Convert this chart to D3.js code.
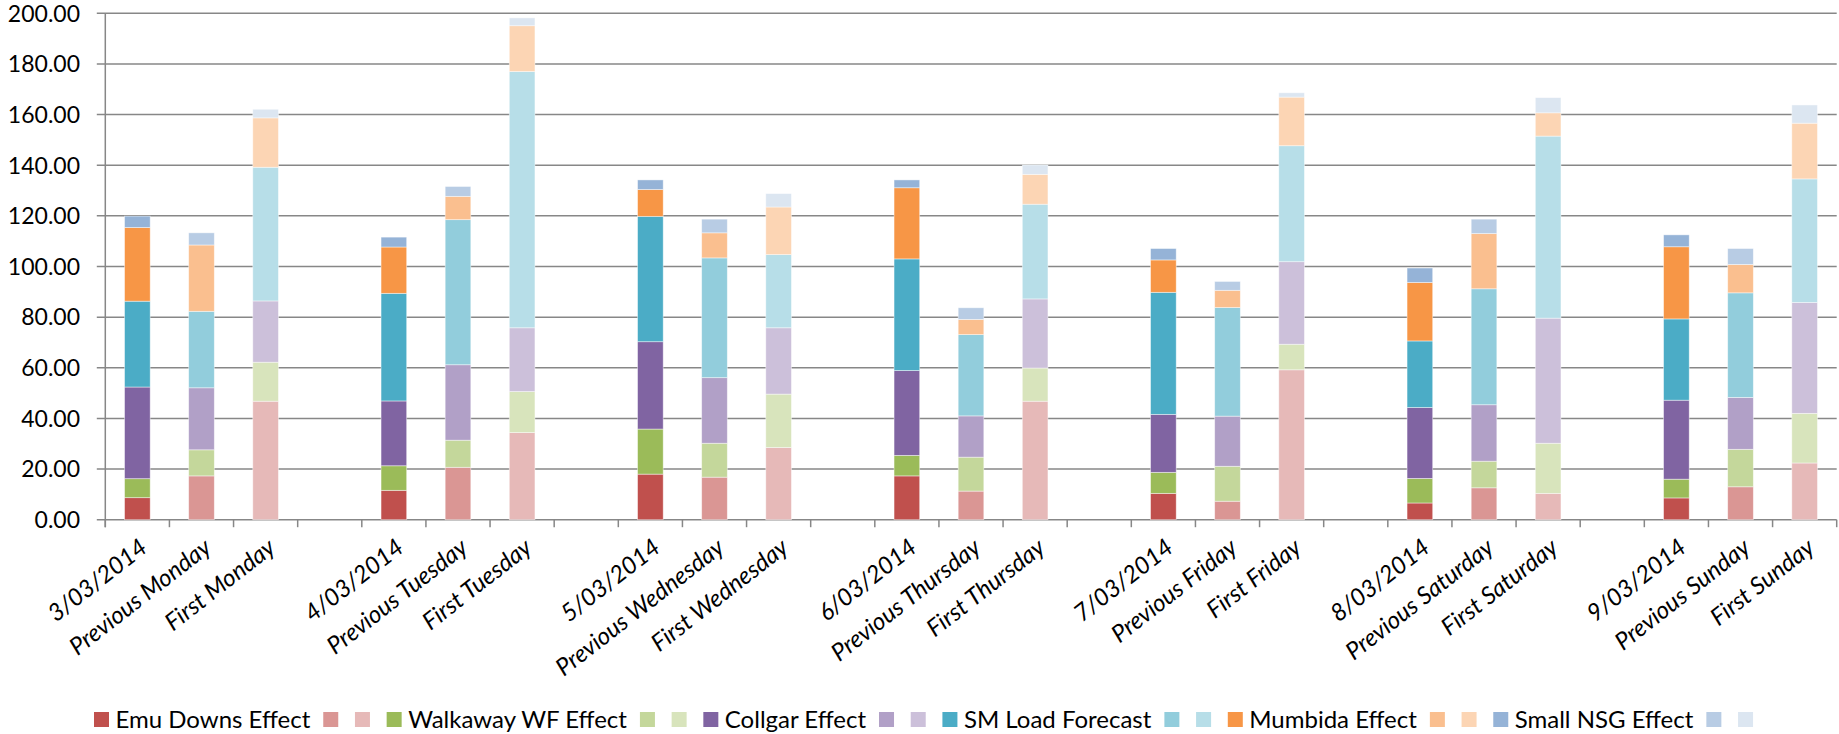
<!DOCTYPE html>
<html>
<head>
<meta charset="utf-8">
<script src="https://cdn.jsdelivr.net/npm/d3@7/dist/d3.min.js"></script>
<style>
  html, body { margin: 0; padding: 0; background: #fff; }
  svg { display: block; }
  text { font-family: Lato, "Open Sans", sans-serif; fill: #000; }
</style>
</head>
<body>
<svg id="chart" width="1839" height="734"></svg>
<script>
// Category axis: date bar, previous-weekday bar, first-weekday bar, then a blank spacer
const categories = [
  "3/03/2014", "Previous Monday", "First Monday", "",
  "4/03/2014", "Previous Tuesday", "First Tuesday", "",
  "5/03/2014", "Previous Wednesday", "First Wednesday", "",
  "6/03/2014", "Previous Thursday", "First Thursday", "",
  "7/03/2014", "Previous Friday", "First Friday", "",
  "8/03/2014", "Previous Saturday", "First Saturday", "",
  "9/03/2014", "Previous Sunday", "First Sunday"
];

// Bars in drawing order (blank spacer categories carry no bar)
const barCategories = categories.filter(c => c !== "");
// 0 = actual date, 1 = previous weekday, 2 = first weekday
const barKinds = [0,1,2, 0,1,2, 0,1,2, 0,1,2, 0,1,2, 0,1,2, 0,1,2];

const seriesNames = ["Emu Downs Effect", "Walkaway WF Effect", "Collgar Effect",
                     "SM Load Forecast", "Mumbida Effect", "Small NSG Effect"];

// Stack values per bar, bottom to top
const emuDowns   = [8.7, 17.3, 46.8, 11.6, 20.7, 34.4, 18.0, 16.8, 28.5, 17.3, 11.3, 46.8, 10.4, 7.3, 59.2, 6.6, 12.6, 10.4, 8.6, 13.0, 22.4];
const walkaway   = [7.5, 10.3, 15.4, 9.7, 10.7, 16.2, 17.8, 13.4, 21.1, 8.1, 13.4, 13.1, 8.3, 13.8, 10.1, 9.7, 10.5, 19.8, 7.4, 14.8, 19.6];
const collgar    = [36.2, 24.5, 24.2, 25.6, 29.8, 25.2, 34.5, 25.9, 26.2, 33.5, 16.3, 27.3, 22.9, 19.8, 32.6, 28.0, 22.3, 49.4, 31.2, 20.5, 43.8];
const smLoad     = [33.9, 30.2, 52.8, 42.5, 57.3, 101.2, 49.5, 47.3, 28.9, 44.1, 32.1, 37.4, 48.2, 42.9, 45.8, 26.3, 45.8, 71.9, 32.1, 41.3, 48.8];
const mumbida    = [29.1, 26.2, 19.5, 18.3, 9.2, 18.1, 10.6, 9.9, 18.8, 28.1, 6.0, 11.8, 12.8, 6.8, 19.2, 23.1, 21.8, 9.2, 28.5, 11.2, 22.0];
const smallNsg   = [4.5, 4.8, 3.4, 3.9, 3.9, 3.1, 3.8, 5.4, 5.3, 3.1, 4.6, 3.7, 4.5, 3.5, 1.7, 5.7, 5.7, 6.0, 4.7, 6.3, 7.2];

const yTicks = [0, 20, 40, 60, 80, 100, 120, 140, 160, 180, 200];

// Colour triples per series: date / previous / first
const palette = [
  ["#C0504D", "#DA9694", "#E6B9B8"],
  ["#9BBB59", "#C4D79B", "#D8E4BC"],
  ["#8064A2", "#B1A0C7", "#CCC0DA"],
  ["#4BACC6", "#92CDDC", "#B7DEE8"],
  ["#F79646", "#FABF8F", "#FCD5B4"],
  ["#95B3D7", "#B8CCE4", "#DCE6F1"]
];

const seriesValues = [emuDowns, walkaway, collgar, smLoad, mumbida, smallNsg];

const svg = d3.select("#chart");
const plot = { left: 105.3, right: 1836.7, top: 13.3, bottom: 519.7 };

const x = d3.scaleBand()
  .domain(d3.range(categories.length))
  .range([plot.left, plot.right])
  .paddingInner(0).paddingOuter(0);

const y = d3.scaleLinear().domain([0, 200]).range([plot.bottom, plot.top]);

const gridColor = "#878787";

// Horizontal gridlines
svg.append("g")
  .selectAll("line")
  .data(yTicks)
  .join("line")
  .attr("x1", plot.left - 8.5)
  .attr("x2", plot.right)
  .attr("y1", d => y(d))
  .attr("y2", d => y(d))
  .attr("stroke", gridColor)
  .attr("stroke-width", 1.5);

// Y axis labels
svg.append("g")
  .selectAll("text")
  .data(yTicks)
  .join("text")
  .attr("x", 80)
  .attr("y", d => y(d))
  .attr("dy", "0.36em")
  .attr("text-anchor", "end")
  .style("font-size", "23px")
  .text(d => d3.format(".2f")(d));

// Y axis line
svg.append("line")
  .attr("x1", plot.left).attr("x2", plot.left)
  .attr("y1", plot.top).attr("y2", plot.bottom + 7.5)
  .attr("stroke", gridColor).attr("stroke-width", 1.5);

// Category tick marks at the band boundaries
const boundaries = d3.range(categories.length + 1).map(i =>
  i < categories.length ? x(i) : x(categories.length - 1) + x.bandwidth());
svg.append("g")
  .selectAll("line")
  .data(boundaries)
  .join("line")
  .attr("x1", d => d).attr("x2", d => d)
  .attr("y1", plot.bottom).attr("y2", plot.bottom + 7.5)
  .attr("stroke", gridColor).attr("stroke-width", 1.5);

// Stacked bars
const barIndexToCat = [];
categories.forEach((c, i) => { if (c !== "") barIndexToCat.push(i); });

const stackRows = barCategories.map((c, i) => {
  const row = { idx: i };
  seriesNames.forEach((s, k) => { row[s] = seriesValues[k][i]; });
  return row;
});
const stacked = d3.stack().keys(seriesNames)(stackRows);

const barW = x.bandwidth() * 0.4;
const bars = svg.append("g");
stacked.forEach((layer, k) => {
  bars.append("g")
    .selectAll("rect")
    .data(layer)
    .join("rect")
    .attr("x", d => x(barIndexToCat[d.data.idx]) + (x.bandwidth() - barW) / 2)
    .attr("width", barW)
    .attr("y", d => y(d[1]))
    .attr("height", d => y(d[0]) - y(d[1]))
    .attr("fill", d => palette[k][barKinds[d.data.idx]])
    .attr("stroke", "#ffffff")
    .attr("stroke-opacity", 0.55)
    .attr("stroke-width", 0.8);
});

// Rotated category labels
svg.append("g")
  .selectAll("text")
  .data(categories.map((c, i) => ({ c, i })).filter(d => d.c !== ""))
  .join("text")
  .attr("transform", d => `translate(${x(d.i) + x.bandwidth() / 2 + 6},${plot.bottom + 24}) rotate(-38)`)
  .attr("text-anchor", "end")
  .attr("dy", "0.36em")
  .style("font-size", "24px")
  .style("font-style", "italic")
  .text(d => d.c);

// Legend: three swatches per series, first one labelled
const legend = svg.append("g");
let lx = 94;
const ly = 712;
seriesNames.forEach((name, k) => {
  palette[k].forEach((col, j) => {
    legend.append("rect")
      .attr("x", lx).attr("y", ly)
      .attr("width", 15).attr("height", 15)
      .attr("fill", col);
    lx += 15;
    if (j === 0) {
      const t = legend.append("text")
        .attr("x", lx + 6.5).attr("y", ly + 7.5)
        .attr("dy", "0.36em")
        .style("font-size", "24px")
        .text(name);
      lx += 6.5 + t.node().getComputedTextLength() + 13;
    } else {
      lx += 16.7;
    }
  });
});
</script>
</body>
</html>
